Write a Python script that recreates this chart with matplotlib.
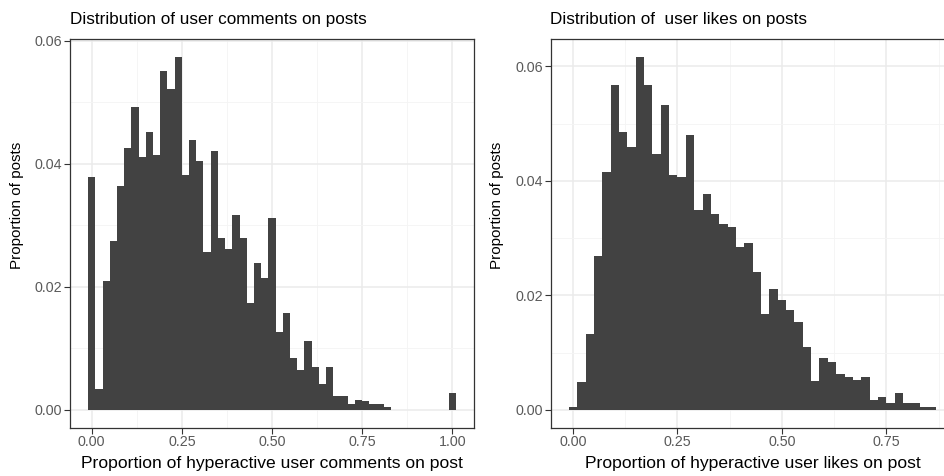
import numpy as np
import matplotlib
matplotlib.use("Agg")
import matplotlib.pyplot as plt
from matplotlib.ticker import MultipleLocator, FixedLocator

plt.rcParams['font.family'] = ['Liberation Sans', 'DejaVu Sans']

bin_width = 0.02

comments_props = [
    0.0379, 0.0033, 0.0210, 0.0275, 0.0364, 0.0426, 0.0493, 0.0411, 0.0451, 0.0415,
    0.0551, 0.0522, 0.0574, 0.0381, 0.0439, 0.0404, 0.0257, 0.0420, 0.0280, 0.0262,
    0.0317, 0.0280, 0.0173, 0.0238, 0.0215, 0.0311, 0.0126, 0.0157, 0.0084, 0.0064,
    0.0111, 0.0069, 0.0042, 0.0069, 0.0022, 0.0022, 0.0009, 0.0016, 0.0014, 0.0010,
    0.0009, 0.0004, 0.0, 0.0, 0.0, 0.0, 0.0, 0.0, 0.0, 0.0,
    0.0027,
]

likes_props = [
    0.0004, 0.0049, 0.0133, 0.0269, 0.0416, 0.0567, 0.0486, 0.0460, 0.0617, 0.0567,
    0.0447, 0.0533, 0.0410, 0.0407, 0.0480, 0.0350, 0.0377, 0.0343, 0.0324, 0.0320,
    0.0285, 0.0291, 0.0240, 0.0167, 0.0211, 0.0192, 0.0174, 0.0153, 0.0110, 0.0051,
    0.0090, 0.0083, 0.0063, 0.0058, 0.0052, 0.0058, 0.0017, 0.0023, 0.0012, 0.0029,
    0.0012, 0.0012, 0.0004, 0.0004,
]

x_ticks_left = [0.00, 0.25, 0.50, 0.75, 1.00]
x_ticks_right = [0.00, 0.25, 0.50, 0.75]
y_ticks = [0.00, 0.02, 0.04, 0.06]

titles = ["Distribution of user comments on posts", "Distribution of  user likes on posts"]
xlabels = ["Proportion of hyperactive user comments on post",
           "Proportion of hyperactive user likes on post"]
ylabel = "Proportion of posts"

bar_color = "#424242"

W, H = 944, 476
fig = plt.figure(figsize=(W / 100, H / 100), dpi=100)

PT, PB = 39, 427.5
PH = PB - PT

def frac(x0, x1):
    return [x0 / W, 1 - PB / H, (x1 - x0) / W, PH / H]

ax1 = fig.add_axes(frac(69.7, 474.3))
ax2 = fig.add_axes(frac(550.5, 954.8))

def style(ax, props, xticks, xlim, ylim, title, xlabel, pw, ylab_right):
    centers = bin_width * np.arange(len(props))
    ax.bar(centers, props, width=bin_width, color=bar_color, linewidth=0, zorder=3)
    ax.set_xlim(*xlim)
    ax.set_ylim(*ylim)
    ax.xaxis.set_major_locator(FixedLocator(xticks))
    ax.yaxis.set_major_locator(FixedLocator(y_ticks))
    ax.xaxis.set_minor_locator(MultipleLocator(0.125))
    ax.yaxis.set_minor_locator(MultipleLocator(0.01))
    ax.set_xticklabels([f"{t:.2f}" for t in xticks])
    ax.set_yticklabels([f"{t:.2f}" for t in y_ticks])
    ax.grid(which='major', color='#ebebeb', linewidth=1.1, zorder=0)
    ax.grid(which='minor', color='#f4f4f4', linewidth=0.6, zorder=0)
    ax.set_axisbelow(True)
    ax.tick_params(which='major', length=4, width=0.8, color='#333333',
                   labelsize=10.3, labelcolor='#5a5a5a', pad=1.5)
    ax.tick_params(which='minor', length=0)
    for s in ax.spines.values():
        s.set_color('#333333')
        s.set_linewidth(0.9)
    ax.text(0, 1 + 15 / PH, title, transform=ax.transAxes, ha='left', va='baseline',
            fontsize=12.3, color='black')
    ax.set_xlabel(xlabel, fontsize=12.6)
    ax.xaxis.set_label_coords(0.5, -(456 - PB) / PH)
    ax.set_ylabel(ylabel, fontsize=11)
    ax.yaxis.set_label_coords(ylab_right / pw, (PB - 205) / PH)

style(ax1, comments_props, x_ticks_left, (-0.061, 1.061), (-0.0029, 0.0603),
      titles[0], xlabels[0], 474.3 - 69.7, 24 - 69.7)
style(ax2, likes_props, x_ticks_right, (-0.054, 0.914), (-0.0031, 0.0648),
      titles[1], xlabels[1], 954.8 - 550.5, 504 - 550.5)

fig.savefig("out.png", dpi=100)
